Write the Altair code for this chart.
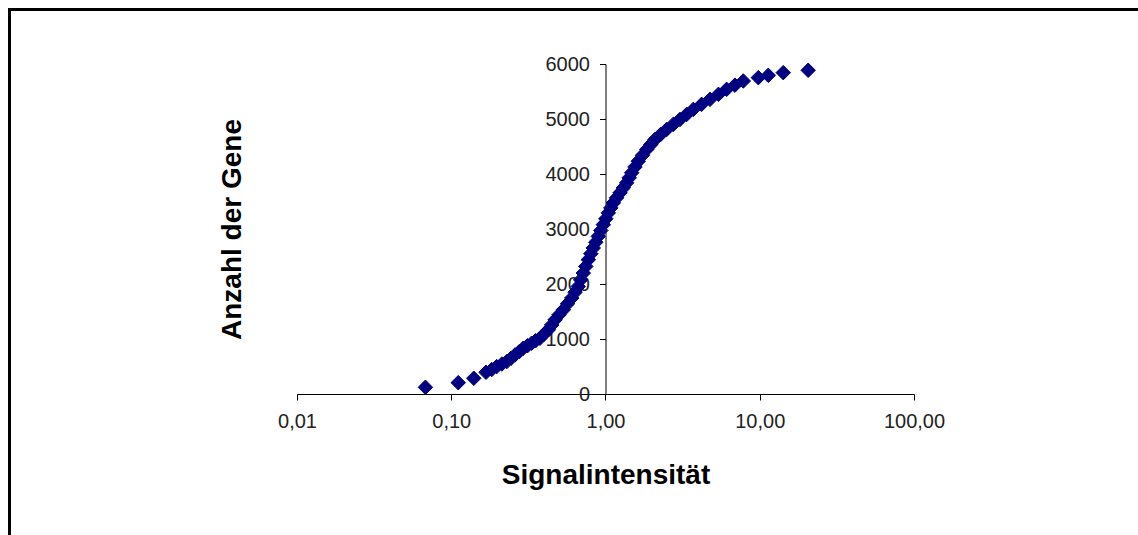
import altair as alt
import pandas as pd

# Signal intensity (x) and cumulative number of genes (y)
signal = [0.068, 0.111, 0.140, 0.168, 0.183, 0.197, 0.213, 0.229, 0.244, 0.259,
          0.276, 0.293, 0.312, 0.332, 0.352, 0.376, 0.400, 0.426, 0.448, 0.471,
          0.500, 0.533, 0.567, 0.604, 0.635, 0.666, 0.690, 0.718, 0.745, 0.774,
          0.803, 0.833, 0.865, 0.898, 0.932, 0.968, 1.005, 1.043, 1.083, 1.124,
          1.180, 1.242, 1.305, 1.372, 1.424, 1.479, 1.553, 1.632, 1.738, 1.849,
          1.968, 2.094, 2.280, 2.493, 2.750, 3.040, 3.360, 3.710, 4.200, 4.760,
          5.400, 6.100, 6.900, 7.820, 9.790, 11.36, 14.20, 20.60]
genes = [122, 206, 286, 395, 445, 498, 545, 589, 650, 711,
         770, 832, 878, 923, 968, 1014, 1090, 1166, 1255, 1348,
         1440, 1531, 1640, 1744, 1850, 1955, 2075, 2199, 2320, 2442,
         2550, 2655, 2760, 2866, 2972, 3079, 3186, 3293, 3384, 3475,
         3566, 3657, 3748, 3839, 3930, 4022, 4128, 4233, 4340, 4446,
         4537, 4628, 4720, 4811, 4902, 4993, 5084, 5175, 5266, 5357,
         5448, 5539, 5615, 5691, 5752, 5794, 5843, 5886]

x_ticks = [0.01, 0.1, 1, 10, 100]
y_ticks = [0, 1000, 2000, 3000, 4000, 5000, 6000]

df = pd.DataFrame({"signal": signal, "genes": genes})

W, H = 617, 330
FONT = "Liberation Sans"

points = alt.Chart(df).mark_point(
    shape="diamond", filled=True, size=210, color="#000080", opacity=1,
    stroke="#000080", strokeWidth=1
).encode(
    x=alt.X("signal:Q",
            scale=alt.Scale(type="log", domain=[0.01, 100], nice=False),
            axis=alt.Axis(
                values=x_ticks,
                labelExpr="replace(format(datum.value, '.2f'), '.', ',')",
                title="Signalintensität",
                titleFontSize=28, titleFontWeight="bold", titleFont=FONT,
                titleColor="#000000",
                titleY=81, titleBaseline="middle",
                labelFontSize=20, labelFont=FONT, labelColor="#222222",
                labelPadding=11, tickSize=6, tickColor="#000000",
                domainColor="#000000", grid=False, labelFlush=False,
            )),
    y=alt.Y("genes:Q",
            scale=alt.Scale(domain=[0, 6000], nice=False),
            axis=alt.Axis(
                values=y_ticks,
                format="d",
                offset=-308.5,
                title="Anzahl der Gene",
                titleFontSize=28, titleFontWeight="bold", titleFont=FONT,
                titleColor="#000000",
                titleX=-373, titleY=165, titleAngle=-90,
                titleAlign="center", titleBaseline="middle",
                labelFontSize=20, labelFont=FONT, labelColor="#222222",
                labelPadding=10, tickSize=6, tickColor="#000000",
                domainColor="#000000", grid=False,
            )),
)

border = alt.Chart(pd.DataFrame({"a": [0]})).mark_rect(
    filled=False, stroke="#000000", strokeWidth=3
).encode(
    x=alt.value(-287.5), x2=alt.value(W + 400),
    y=alt.value(-54.5), y2=alt.value(H + 300),
)

chart = alt.layer(border, points).properties(
    width=W, height=H,
    padding={"left": 297, "top": 64, "right": 224, "bottom": 141},
    autosize=alt.AutoSizeParams(type="none"),
    background="#ffffff",
).configure_view(stroke=None)

chart.save("out.html", embed_options={"renderer": "svg", "actions": False})
